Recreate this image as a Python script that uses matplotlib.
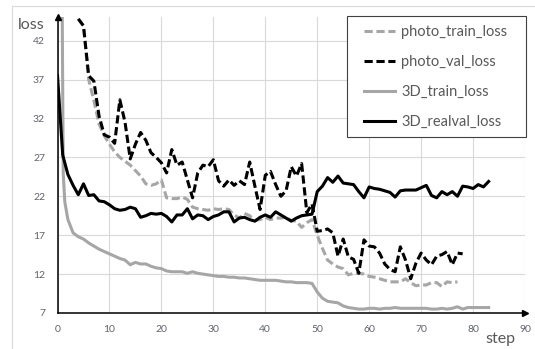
import numpy as np
import matplotlib
matplotlib.use("Agg")
import matplotlib.pyplot as plt
from matplotlib.patches import Rectangle
from matplotlib.lines import Line2D

plt.rcParams['font.family'] = ['Lato', 'DejaVu Sans']

# photo model losses
photo_train_steps = np.arange(4, 78)
photo_train_loss = [44.8, 43.9, 37.0, 34.3, 31.3, 29.8, 28.7, 27.7, 27.0, 26.5,
                    26.0, 25.3, 24.6, 23.6, 23.4, 23.6, 24.1, 21.8, 21.7, 21.7,
                    21.9, 21.6, 20.6, 20.4, 20.3, 20.2, 20.4, 20.3, 20.4, 20.3,
                    19.6, 19.2, 19.8, 19.5, 18.9, 19.0, 19.3, 19.0, 19.2, 19.2,
                    19.3, 18.9, 18.8, 18.0, 18.6, 19.0, 17.0, 15.3, 13.8, 13.3,
                    12.9, 12.7, 11.9, 12.1, 12.1, 12.0, 11.7, 11.6, 11.4, 11.2,
                    11.0, 11.0, 11.0, 11.4, 10.9, 10.5, 10.6, 10.6, 10.9, 10.9,
                    10.4, 11.0, 10.9, 11.0]

photo_val_steps = np.arange(4, 79)
photo_val_loss = [44.8, 43.9, 37.5, 36.8, 32.3, 29.9, 29.6, 28.8, 34.4, 31.5,
                  26.8, 28.7, 30.2, 29.2, 27.6, 27.0, 26.3, 25.0, 28.0, 26.0,
                  26.4, 24.1, 21.8, 25.0, 26.0, 25.8, 26.7, 24.0, 23.3, 24.1,
                  23.4, 24.0, 23.5, 26.4, 23.3, 20.3, 24.7, 25.2, 23.5, 22.0,
                  22.7, 25.8, 24.6, 26.2, 19.9, 21.0, 17.5, 17.6, 17.8, 17.3,
                  14.3, 16.5, 14.2, 13.9, 12.1, 16.4, 15.6, 15.5, 14.7, 13.3,
                  12.6, 12.3, 15.5, 13.8, 11.4, 13.4, 14.7, 13.8, 13.2, 14.3,
                  14.5, 14.9, 13.2, 14.7, 14.6]

# 3D model losses
train3d_steps = [0.9, 1.1, 1.4] + list(range(2, 84))
train3d_loss = [46.5, 25.0, 21.3,
                19.0, 17.3, 16.8, 16.5, 16.0, 15.6, 15.2, 14.9, 14.6, 14.3,
                14.0, 13.8, 13.2, 13.5, 13.3, 13.3, 13.0, 12.8, 12.7, 12.4,
                12.3, 12.3, 12.3, 12.1, 12.3, 12.1, 12.0, 11.9, 11.8, 11.7,
                11.7, 11.6, 11.6, 11.5, 11.5, 11.4, 11.3, 11.2, 11.2, 11.2,
                11.2, 11.1, 11.0, 11.0, 10.9, 10.9, 10.9, 10.8, 9.7, 8.9,
                8.5, 8.4, 8.3, 7.9, 7.7, 7.6, 7.5, 7.5, 7.6, 7.6,
                7.5, 7.6, 7.6, 7.7, 7.6, 7.6, 7.6, 7.6, 7.6, 7.6,
                7.5, 7.5, 7.6, 7.5, 7.6, 7.8, 7.5, 7.7, 7.7, 7.7,
                7.7, 7.7]

realval3d_steps = np.arange(0, 84)
realval3d_loss = [37.5, 27.3, 24.8, 23.4, 22.2, 23.6, 22.1, 22.2, 21.4, 21.3,
                  20.9, 20.4, 20.2, 20.3, 20.6, 20.4, 19.3, 19.5, 19.8, 19.7,
                  19.8, 19.4, 18.7, 19.6, 19.6, 20.4, 19.1, 19.6, 19.5, 19.0,
                  19.4, 19.6, 20.0, 20.0, 18.7, 19.2, 19.3, 19.0, 18.8, 19.3,
                  19.6, 19.3, 20.0, 19.6, 19.2, 18.8, 19.2, 19.5, 19.6, 19.7,
                  22.6, 23.3, 24.4, 23.8, 24.6, 23.7, 23.6, 23.5, 22.6, 21.8,
                  23.2, 23.0, 22.9, 22.7, 22.5, 21.9, 22.7, 22.8, 22.8, 22.8,
                  23.1, 23.4, 22.1, 21.8, 22.6, 22.2, 22.6, 22.0, 23.3, 23.2,
                  23.0, 23.5, 23.2, 23.9]

x_ticks = np.arange(0, 91, 10)
y_ticks = np.arange(7, 43, 5)

GRAY = '#a6a6a6'
TEXT = '#595959'
DASH = (2.7, 1.2)

fig = plt.figure(figsize=(5.35, 3.49), dpi=100)
ax = fig.add_axes([0.1075, 0.1032, 0.8738, 0.8472])

ax.plot(photo_train_steps, photo_train_loss, color=GRAY, lw=2.2, dashes=DASH)
ax.plot(photo_val_steps, photo_val_loss, color='black', lw=2.2, dashes=DASH)
ax.plot(train3d_steps, train3d_loss, color=GRAY, lw=2.2)
ax.plot(realval3d_steps, realval3d_loss, color='black', lw=2.2)

ax.set_xlim(0, 90)
ax.set_ylim(7, 45)
ax.set_xticks(x_ticks)
ax.set_yticks(y_ticks)
ax.grid(True, color='#d9d9d9', lw=0.8)
ax.set_axisbelow(True)
ax.tick_params(length=0, labelsize=7.5, labelcolor='#62626e', pad=9)
for s in ['top', 'right']:
    ax.spines[s].set_visible(False)
for s in ['left', 'bottom']:
    ax.spines[s].set_color('black')
    ax.spines[s].set_linewidth(1.1)

# arrow heads at the axis ends
ax.plot(1, 0, marker='>', color='black', ms=5, transform=ax.transAxes, clip_on=False)
ax.plot(0, 1, marker='^', color='black', ms=5, transform=ax.transAxes, clip_on=False)

fig.text(0.034, 0.916, 'loss', fontsize=11.5, color=TEXT, va='baseline', ha='left')
fig.text(0.908, 0.018, 'step', fontsize=11.5, color=TEXT, va='baseline', ha='left')

# chart area border (cropped at right/bottom)
fig.add_artist(Line2D([11.5 / 535, 11.5 / 535], [0, 343 / 349], transform=fig.transFigure,
                      color='#d9d9d9', lw=0.8))
fig.add_artist(Line2D([11.5 / 535, 1], [343 / 349, 343 / 349], transform=fig.transFigure,
                      color='#d9d9d9', lw=0.8))

# legend box
box = Rectangle((346.7 / 535, (349 - 136.7) / 349), 179 / 535, 120.7 / 349,
                transform=fig.transFigure, facecolor='white', edgecolor='#404040',
                lw=0.8, zorder=5)
fig.add_artist(box)

handles = [
    Line2D([], [], color=GRAY, lw=2.2, dashes=DASH),
    Line2D([], [], color='black', lw=2.2, dashes=DASH),
    Line2D([], [], color=GRAY, lw=2.2),
    Line2D([], [], color='black', lw=2.2),
]
labels = ['photo_train_loss', 'photo_val_loss', '3D_train_loss', '3D_realval_loss']
leg = fig.legend(handles, labels, loc='upper left', bbox_to_anchor=(364 / 535, (349 - 25) / 349),
                 frameon=False, borderpad=0, borderaxespad=0, fontsize=10.5,
                 handlelength=2.15, handletextpad=0.42, labelspacing=1.1,
                 labelcolor=TEXT)
leg.set_zorder(6)

fig.savefig('out.png', dpi=100)
